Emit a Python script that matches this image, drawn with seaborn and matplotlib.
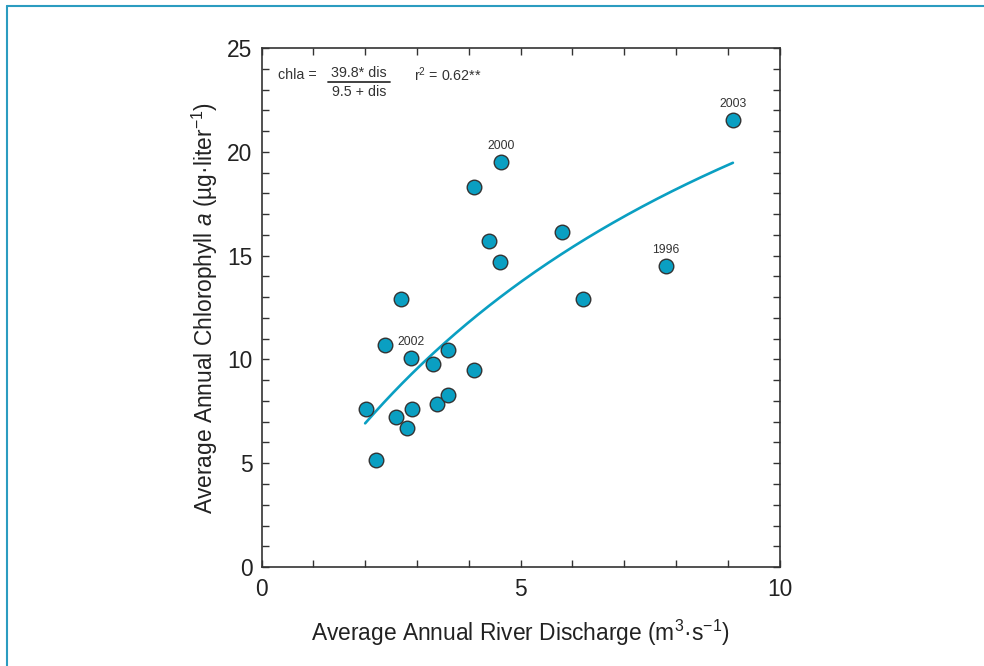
import numpy as np
import pandas as pd
import matplotlib.pyplot as plt
import seaborn as sns
from matplotlib.lines import Line2D
from matplotlib.ticker import MultipleLocator

# values
discharge = [2.02, 2.21, 2.38, 2.60, 2.69, 2.81, 2.89, 2.91, 3.31, 3.39, 3.60,
             3.60, 4.10, 4.10, 4.39, 4.60, 4.62, 5.80, 6.21, 7.81, 9.11]
chlorophyll = [7.61, 5.15, 10.69, 7.23, 12.91, 6.70, 10.07, 7.61, 9.78, 7.85, 10.45,
               8.29, 18.30, 9.49, 15.70, 14.69, 19.51, 16.14, 12.91, 14.51, 21.55]

label_years = ["2002", "2000", "1996", "2003"]
label_x = [2.89, 4.62, 7.81, 9.11]
label_y = [10.07, 19.51, 14.51, 21.55]

# fitted curve from the equation shown on the chart
fit_a = 39.8
fit_b = 9.5
fit_start, fit_end = 2.0, 9.1

teal = "#0a9fc2"
dark = "#333333"

sns.set_theme(style="ticks")
plt.rcParams["font.family"] = ["Liberation Sans", "DejaVu Sans"]
plt.rcParams["mathtext.fontset"] = "custom"
plt.rcParams["mathtext.rm"] = "Liberation Sans"
plt.rcParams["mathtext.it"] = "Liberation Sans:italic"
plt.rcParams["mathtext.default"] = "regular"

df = pd.DataFrame({"dis": discharge, "chla": chlorophyll})
fit_x = np.linspace(fit_start, fit_end, 200)
fit_df = pd.DataFrame({"dis": fit_x, "chla": fit_a * fit_x / (fit_b + fit_x)})

fig = plt.figure(figsize=(9.84, 6.66), dpi=100)
ax = fig.add_axes([0.2658, 0.1486, 0.5264, 0.7793])

sns.lineplot(data=fit_df, x="dis", y="chla", color=teal, linewidth=1.9, ax=ax, zorder=2)
sns.scatterplot(data=df, x="dis", y="chla", s=110, color=teal, edgecolor=dark,
                linewidth=1.0, ax=ax, zorder=3)

for yr, lx, ly in zip(label_years, label_x, label_y):
    ax.annotate(yr, (lx, ly), xytext=(0, 11.5), textcoords="offset points",
                ha="center", va="center", fontsize=8.7, color=dark)

# equation block
ax.text(0.32, 23.72, "chla =", fontsize=10.3, color=dark, va="center", ha="left")
ax.text(1.88, 23.80, "39.8* dis", fontsize=10.3, color=dark, va="center", ha="center")
ax.plot([1.29, 2.48], [23.38, 23.38], color=dark, lw=1.3)
ax.text(1.88, 22.90, "9.5 + dis", fontsize=10.3, color=dark, va="center", ha="center")
ax.text(2.94, 23.72, "r$^2$ = 0.62**", fontsize=10.3, color=dark, va="center", ha="left")

ax.set_xlim(0, 10)
ax.set_ylim(0, 25)
ax.xaxis.set_major_locator(MultipleLocator(5))
ax.xaxis.set_minor_locator(MultipleLocator(1))
ax.yaxis.set_major_locator(MultipleLocator(5))
ax.yaxis.set_minor_locator(MultipleLocator(1))
ax.tick_params(which="both", direction="in", top=True, right=True, length=5,
               width=1.0, color=dark, labelsize=16.4, labelcolor="#222222")
ax.tick_params(axis="x", pad=8)
ax.tick_params(axis="y", pad=6.5)
for sp in ax.spines.values():
    sp.set_color(dark)
    sp.set_linewidth(1.2)

ax.set_xlabel("Average Annual River Discharge (m$^3$·s$^{-1}$)", fontsize=16.4,
              color="#222222", labelpad=12)
ax.set_ylabel("Average Annual Chlorophyll $\\it{a}$ (µg·liter$^{-1}$)", fontsize=16.4,
              color="#222222", labelpad=5)

# teal frame around the figure (left and top edges visible)
fig.add_artist(Line2D([7 / 984, 7 / 984], [0, 1 - 6 / 666], transform=fig.transFigure,
                      color="#2b9cc0", lw=1.5))
fig.add_artist(Line2D([7 / 984, 1], [1 - 6 / 666, 1 - 6 / 666], transform=fig.transFigure,
                      color="#2b9cc0", lw=1.5))

fig.savefig("out.png", dpi=100)
